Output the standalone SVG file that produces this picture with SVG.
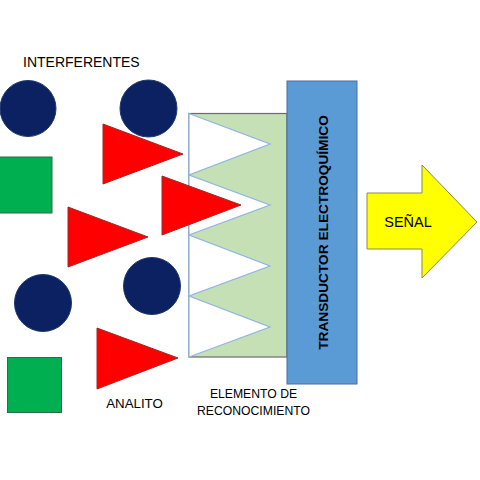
<svg xmlns="http://www.w3.org/2000/svg" width="480" height="480" viewBox="0 0 480 480">
<style>
.lbl{font-family:"Liberation Sans",Arial,sans-serif;fill:#000}
.circ{fill:#0b2161;stroke:#1f3a6e;stroke-width:1}
.sq{fill:#00b050;stroke:#2f6b4a;stroke-width:1}
.tri{fill:#ff0000;stroke:#9b2b2b;stroke-width:1}
</style>
<rect width="480" height="480" fill="#ffffff"/>
<g id="interferentes-label"><text class="lbl" x="23" y="67" font-size="14">INTERFERENTES</text></g>
<g id="circle1"><circle class="circ" cx="28" cy="108.5" r="28"/></g>
<g id="circle2"><circle class="circ" cx="148.5" cy="108.5" r="28.5"/></g>
<g id="circle3"><circle class="circ" cx="43" cy="303" r="28.5"/></g>
<g id="circle4"><circle class="circ" cx="152" cy="286" r="28.5"/></g>
<g id="square1"><rect class="sq" x="-1" y="157" width="53" height="56"/></g>
<g id="square2"><rect class="sq" x="7.5" y="357.5" width="54" height="55"/></g>
<g id="recognition">
<rect x="189" y="113.5" width="98" height="243.5" fill="#c5e0b4" stroke="#6b6b6b" stroke-width="1.2"/>
<polygon points="189,113.5 270,144 189,175 270,205 189,235 270,266 189,296 270,327 189,357" fill="#ffffff" stroke="#8eb4e3" stroke-width="1.2"/>
</g>
<g id="triangle1"><polygon class="tri" points="103,124 183,154 103,184"/></g>
<g id="triangle2"><polygon class="tri" points="162,176 241,205 162,235"/></g>
<g id="triangle3"><polygon class="tri" points="68,207 148,237 68,267"/></g>
<g id="triangle4"><polygon class="tri" points="97,328 178,358 97,389"/></g>
<g id="transducer">
<rect x="287" y="81" width="70" height="303" fill="#5b9bd5" stroke="#4a6f9c" stroke-width="1"/>
<text class="lbl" font-size="13.7" font-weight="bold" text-anchor="middle" transform="translate(327.5,232.5) rotate(-90)">TRANSDUCTOR ELECTROQUÍMICO</text>
</g>
<g id="signal">
<polygon points="367,193 422,193 422,165 477,222 422,278 422,249 367,249" fill="#ffff00" stroke="#8a8a50" stroke-width="1"/>
<text class="lbl" x="408" y="227" font-size="14.5" text-anchor="middle">SEÑAL</text>
</g>
<g id="analito-label"><text class="lbl" x="134.5" y="408" font-size="13.3" text-anchor="middle">ANALITO</text></g>
<g id="elemento-label">
<text class="lbl" x="253.5" y="398" font-size="12.2" text-anchor="middle">ELEMENTO DE</text>
<text class="lbl" x="253.5" y="415" font-size="12.2" text-anchor="middle">RECONOCIMIENTO</text>
</g>
<g id="connectors"/>
</svg>
